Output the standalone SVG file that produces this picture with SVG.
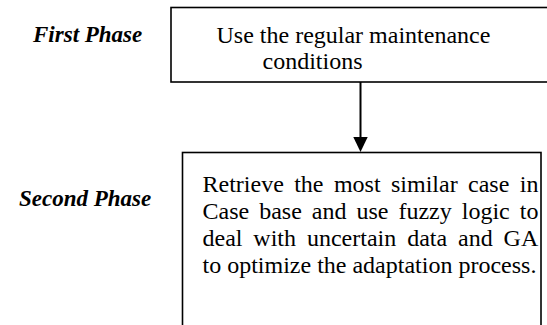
<svg xmlns="http://www.w3.org/2000/svg" width="547" height="325" viewBox="0 0 547 325">
<style>
.box{fill:#fff;stroke:#000;stroke-width:1.6}
.lbl{font-family:"Liberation Serif","Times New Roman",serif;font-size:23px;font-weight:bold;font-style:italic;fill:#000}
.txt{font-family:"Liberation Serif","Times New Roman",serif;font-size:24px;fill:#000}
</style>
<rect width="547" height="325" fill="#fff"/>
<g id="label-first"><text class="lbl" x="33" y="42">First Phase</text></g>
<g id="label-second"><text class="lbl" x="19" y="206">Second Phase</text></g>
<g id="node-first">
<rect class="box" x="171" y="7.5" width="400" height="74.5"/>
<text class="txt" x="216.5" y="42.5">Use the regular maintenance</text>
<text class="txt" x="262.5" y="68.5">conditions</text>
</g>
<g id="node-second">
<rect class="box" x="182.5" y="152.5" width="358.5" height="200"/>
<text class="txt" x="202.5" y="192" word-spacing="4.4">Retrieve the most similar case in</text>
<text class="txt" x="202.5" y="219" word-spacing="4">Case base and use fuzzy logic to</text>
<text class="txt" x="202.5" y="246" word-spacing="4.9">deal with uncertain data and GA</text>
<text class="txt" x="202.5" y="273">to optimize the adaptation process.</text>
</g>
<g id="connectors">
<line x1="360.5" y1="82" x2="360.5" y2="138" stroke="#000" stroke-width="2"/>
<polygon points="353.3,137 367.7,137 360.5,152" fill="#000"/>
</g>
</svg>
